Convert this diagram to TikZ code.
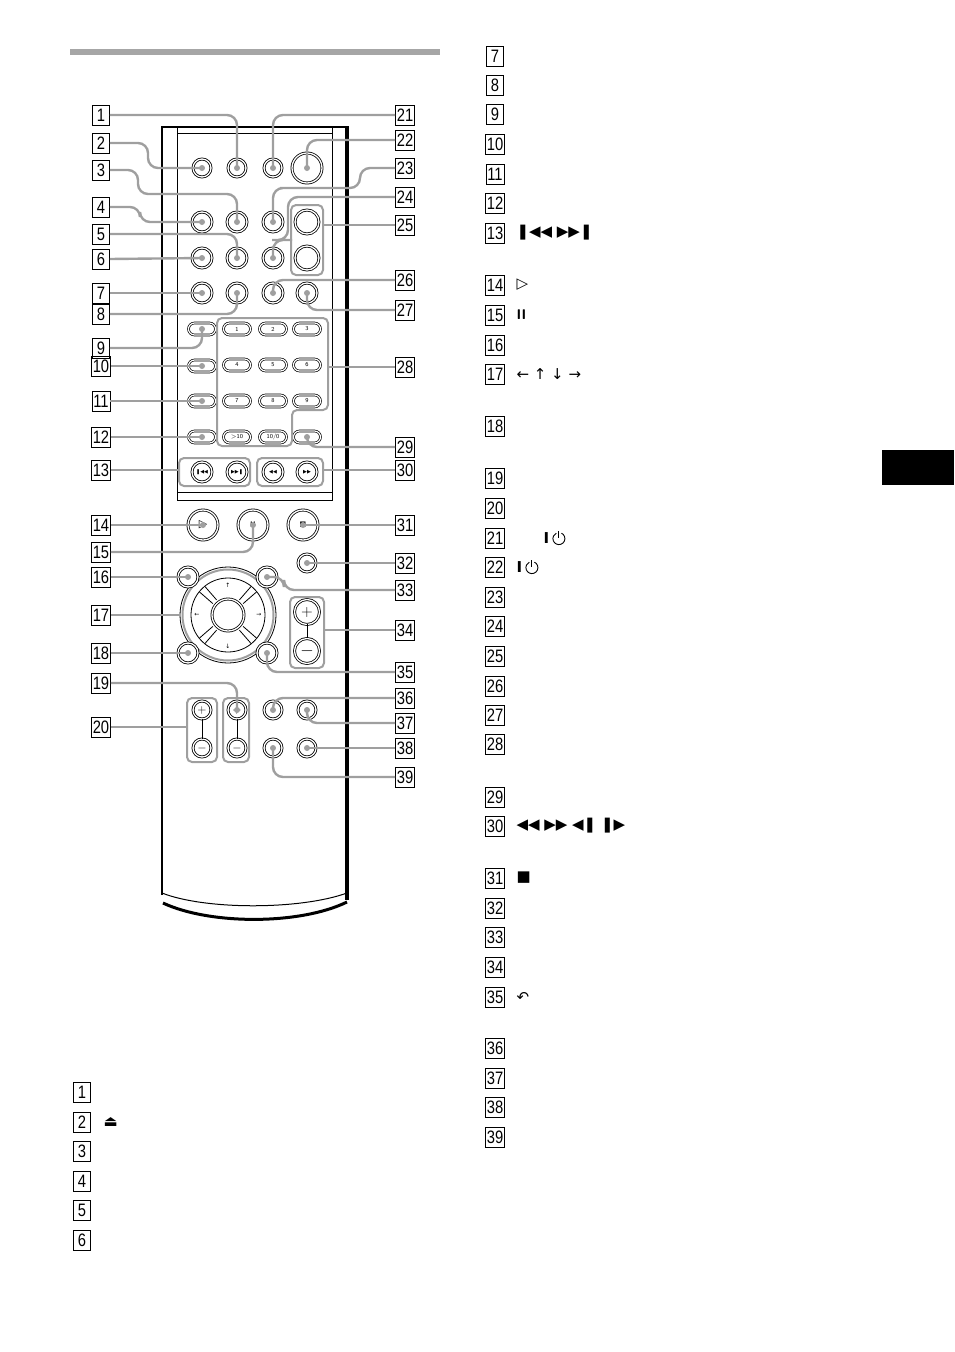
\documentclass[tikz,border=0pt]{standalone}
\usepackage{fontspec}
\usetikzlibrary{calc}
\newfontfamily\numf[FakeStretch=0.82]{Liberation Sans}
\newfontfamily\symf{DejaVu Sans}
\newcommand\pwr{\tikz[baseline=-0.6ex]{\draw[line width=0.9pt] (65:6pt) arc (65:-245:6pt); \draw[line width=0.9pt] (0,1pt)--(0,8pt);}}
\begin{document}
\begin{tikzpicture}[x=1pt,y=-1pt,
  num/.style={draw,line width=0.7pt,inner xsep=1.2pt,inner ysep=0pt,minimum width=17,minimum height=20,font=\numf\fontsize{18}{18}\selectfont},
  btn/.style={circle,draw,double,double distance=1.3pt,line width=0.8pt,inner sep=0pt},
  ovl/.style={rectangle,rounded corners=6pt,draw,double,double distance=1.2pt,line width=0.7pt,minimum width=27,minimum height=12,inner sep=0pt,font=\sffamily\fontsize{6}{6}\selectfont},
  grp/.style={draw=gray!75,line width=2pt,rounded corners=5pt},
  lead/.style={draw=gray!75,line width=2.4pt,rounded corners=10pt},
  dot/.style={circle,fill=gray!75,inner sep=0pt,minimum size=6pt},
  item/.style={anchor=west,font=\symf\fontsize{15}{15}\selectfont}]
\useasboundingbox (0,0) rectangle (954,1352);
\fill[gray!70] (70,49) rectangle (440,55);
\fill[black] (882,450) rectangle (954,485);
% body
\draw[line width=1.2pt] (162,895) -- (162,127) -- (347,127);
\draw[line width=3.6pt] (347,126) -- (347,900);
\draw[line width=1pt] (162,893) .. controls (205,910) and (300,910) .. (347,893);
\draw[line width=3pt] (163,903) .. controls (210,925) and (300,925) .. (347,902);
\draw[line width=0.8pt] (177,127) rectangle (332,500);
\draw[line width=0.6pt] (177,133) -- (332,133);
\draw[line width=0.6pt] (177,492) -- (332,492);
% buttons top
\node[btn,minimum size=18] (b2) at (202,168) {};
\node[btn,minimum size=18] (b1) at (237,168) {};
\node[btn,minimum size=18] (b21) at (273,168) {};
\node[btn,minimum size=30] (b22) at (307,168) {};
\node[btn,minimum size=20] (b4) at (202,222) {};
\node[btn,minimum size=20] (b3) at (237,222) {};
\node[btn,minimum size=20] (b23) at (273,222) {};
\node[btn,minimum size=20] (b6) at (202,258) {};
\node[btn,minimum size=20] (b5) at (237,258) {};
\node[btn,minimum size=20] (b24) at (273,258) {};
\node[btn,minimum size=24] (b25a) at (307,222) {};
\node[btn,minimum size=24] (b25b) at (307,258) {};
\draw[grp] (291,205) rectangle (323,275);
\node[btn,minimum size=20] (b7) at (202,293) {};
\node[btn,minimum size=20] (b8) at (237,293) {};
\node[btn,minimum size=20] (b26) at (273,293) {};
\node[btn,minimum size=20] (b27) at (307,293) {};
% ovals
\node[ovl] (b9) at (202,329) {};
\node[ovl] (n1) at (237,329) {1};
\node[ovl] (n2) at (273,329) {2};
\node[ovl] (n3) at (307,329) {3};
\node[ovl] (b10) at (202,366) {};
\node[ovl] (n4) at (237,365) {4};
\node[ovl] (n5) at (273,365) {5};
\node[ovl] (n6) at (307,365) {6};
\node[ovl] (b11) at (202,401) {};
\node[ovl] (n7) at (237,401) {7};
\node[ovl] (n8) at (273,401) {8};
\node[ovl] (n9) at (307,401) {9};
\node[ovl] (b12) at (202,437) {};
\node[ovl] (n10) at (237,437) {$>$10};
\node[ovl] (n0) at (273,437) {10/0};
\node[ovl] (b29) at (307,437) {};
\draw[grp] (217,318) -- (328,318) -- (328,410) -- (292,410) -- (292,446) -- (217,446) -- cycle;
% skip row
\node[btn,minimum size=20,font=\symf\fontsize{5}{5}\selectfont] (b13a) at (202,472) {❚◀◀};
\node[btn,minimum size=20,font=\symf\fontsize{5}{5}\selectfont] (b13b) at (237,472) {▶▶❚};
\node[btn,minimum size=20,font=\symf\fontsize{5}{5}\selectfont] (b30a) at (273,472) {◀◀};
\node[btn,minimum size=20,font=\symf\fontsize{5}{5}\selectfont] (b30b) at (307,472) {▶▶};
\draw[grp] (179,458) rectangle (250,486);
\draw[grp] (257,458) rectangle (323,486);
% play row
\node[btn,minimum size=30,font=\symf\fontsize{11}{11}\selectfont] (b14) at (203,525) {▷};
\node[btn,minimum size=30,font=\sffamily\bfseries\fontsize{8}{8}\selectfont] (b15) at (253,525) {II};
\node[btn,minimum size=30,font=\symf\fontsize{7}{7}\selectfont] (b31) at (303,525) {■};
\node[btn,minimum size=18] (b32) at (307,563) {};
% nav
\coordinate (nc) at (228,615);
\draw[line width=0.8pt] (nc) circle (48);
\draw[gray!75,line width=2pt] (nc) circle (45.5);
\draw[line width=0.8pt] (nc) circle (37);
\foreach \a in {45,135,225,315}{\draw[line width=0.8pt] ($(nc)+(\a-8:19)$) -- ($(nc)+(\a-6:37)$); \draw[line width=0.8pt] ($(nc)+(\a+8:19)$) -- ($(nc)+(\a+6:37)$);}
\node[btn,minimum size=32] (b17c) at (nc) {};
\node[font=\symf\fontsize{6}{6}\selectfont] (au) at (228,585) {↑};
\node[font=\symf\fontsize{6}{6}\selectfont] (ad) at (228,646) {↓};
\node[font=\symf\fontsize{6}{6}\selectfont] (al) at (197,615) {←};
\node[font=\symf\fontsize{6}{6}\selectfont] (ar) at (259,615) {→};
\coordinate (r17) at (180,615);
\node[btn,minimum size=20,fill=white] (b16) at (188,577) {};
\node[btn,minimum size=20,fill=white] (b33) at (267,577) {};
\node[btn,minimum size=20,fill=white] (b18) at (188,653) {};
\node[btn,minimum size=20,fill=white] (b35) at (267,653) {};
% volume 34
\node[btn,minimum size=25,font=\sffamily\fontsize{16}{16}\selectfont] (b34a) at (307,612) {+};
\node[btn,minimum size=25,font=\sffamily\fontsize{16}{16}\selectfont] (b34b) at (307,651) {$-$};
\draw[line width=0.7pt] (307,624) -- (307,638);
\draw[grp] (290,597) rectangle (324,668);
% 19/20
\node[btn,minimum size=18,font=\sffamily\fontsize{12}{12}\selectfont] (b20a) at (202,710) {+};
\node[btn,minimum size=18,font=\sffamily\fontsize{12}{12}\selectfont] (b20b) at (202,748) {$-$};
\node[btn,minimum size=18,font=\sffamily\fontsize{12}{12}\selectfont] (b19a) at (237,710) {+};
\node[btn,minimum size=18,font=\sffamily\fontsize{12}{12}\selectfont] (b19b) at (237,748) {$-$};
\draw[line width=0.7pt] (202,719) -- (202,739);
\draw[line width=0.7pt] (237,719) -- (237,739);
\draw[grp] (187,698) rectangle (217,762);
\draw[grp] (223,698) rectangle (249,762);
\node[btn,minimum size=18] (b36) at (273,710) {};
\node[btn,minimum size=18] (b37) at (307,710) {};
\node[btn,minimum size=18] (b39) at (273,748) {};
\node[btn,minimum size=18] (b38) at (307,748) {};
% labels
\foreach \n/\y in {1/115,2/143,3/170,4/207,5/234,6/259,7/293,8/314,9/348,10/366,11/401,12/437,13/470,14/525,15/552,16/577,17/615,18/653,19/683,20/727}
  \node[num] (L\n) at (101,\y) {\n};
\foreach \n/\y in {21/115,22/140,23/168,24/197,25/225,26/280,27/310,28/367,29/447,30/470,31/525,32/563,33/590,34/630,35/672,36/698,37/723,38/748,39/777}
  \node[num] (L\n) at (405,\y) {\n};
% leaders
\draw[lead] (L1.east) -| (b1.center);
\draw[lead] (L2.east) -- (148,143) |- (b2.center);
\draw[lead] (L3.east) -- (138,170) |- (200,194) -| (b3.center);
\draw[lead] (L4.east) -- (140,207) |- (b4.center);
\draw[lead] (L5.east) -| (b5.center);
\draw[lead] (L6.east) -- (b6.center);
\draw[lead] (L7.east) -- (b7.center);
\draw[lead] (L8.east) -| (b8.center);
\draw[lead] (L9.east) -| (b9.center);
\draw[lead] (L10.east) -- (b10.center);
\draw[lead] (L11.east) -- (b11.center);
\draw[lead] (L12.east) -- (b12.center);
\draw[lead] (L13.east) -- (179,470);
\draw[lead] (L14.east) -- (b14.center);
\draw[lead] (L15.east) -| (b15.center);
\draw[lead] (L16.east) -- (b16.center);
\draw[lead] (L17.east) -- (r17);
\draw[lead] (L18.east) -- (b18.center);
\draw[lead] (L19.east) -| (b19a.center);
\draw[lead] (L20.east) -- (187,727);
\draw[lead] (L21.west) -| (b21.center);
\draw[lead] (L22.west) -| (b22.center);
\draw[lead] (L23.west) -- (360,168) |- (290,188) -| (b23.center);
\draw[lead] (L24.west) -- (288,197) |- (282,240) -| (b24.center);
\draw[lead] (L25.west) -- (323,225);
\draw[lead] (L26.west) -| (b26.center);
\draw[lead] (L27.west) -| (b27.center);
\draw[lead] (L28.west) -- (328,367);
\draw[lead] (L29.west) -| (b29.center);
\draw[lead] (L30.west) -- (323,470);
\draw[lead] (L31.west) -- (b31.center);
\draw[lead] (L32.west) -- (b32.center);
\draw[lead] (L33.west) -- (284,590) |- (b33.center);
\draw[lead] (L34.west) -- (324,630);
\draw[lead] (L35.west) -| (b35.center);
\draw[lead] (L36.west) -| (b36.center);
\draw[lead] (L37.west) -| (b37.center);
\draw[lead] (L38.west) -- (b38.center);
\draw[lead] (L39.west) -| (b39.center);
\foreach \b in {b1,b2,b3,b4,b5,b6,b7,b8,b9,b10,b11,b12,b14,b15,b16,b18,b19a,b21,b22,b23,b24,b26,b27,b29,b31,b32,b33,b35,b36,b37,b38,b39}
  \node[dot] at (\b.center) {};
% item list
\foreach \n/\x/\y in {1/82/1092,2/82/1122,3/82/1151,4/82/1181,5/82/1210,6/82/1240,7/495/56,8/495/85,9/495/114,10/495/144,11/495/174,12/495/203,13/495/233,14/495/285,15/495/315,16/495/345,17/495/374,18/495/426,19/495/478,20/495/508,21/495/538,22/495/567,23/495/597,24/495/626,25/495/656,26/495/686,27/495/715,28/495/744,29/495/797,30/495/826,31/495/878,32/495/908,33/495/937,34/495/967,35/495/997,36/495/1048,37/495/1078,38/495/1107,39/495/1137}
  \node[num] (T\n) at (\x,\y) {\n};
\node[item] (s2) at (100,1122) {⏏};
\node[item] (s13) at (513,233) {❚◀◀ ▶▶❚};
\node[item] (s14) at (513,285) {▷};
\node[item,font=\sffamily\bfseries\fontsize{14}{14}\selectfont] (s15) at (513,315) {II};
\node[item] (s17) at (513,374) {← ↑ ↓ →};
\node[item] (s21) at (540,538) {\textbf{I}\,\pwr};
\node[item] (s22) at (513,567) {\textbf{I}\,\pwr};
\node[item] (s30) at (513,826) {◀◀ ▶▶ ◀❚ ❚▶};
\node[item] (s31) at (513,878) {■};
\node[item] (s35) at (513,997) {↶};
\end{tikzpicture}
\end{document}
